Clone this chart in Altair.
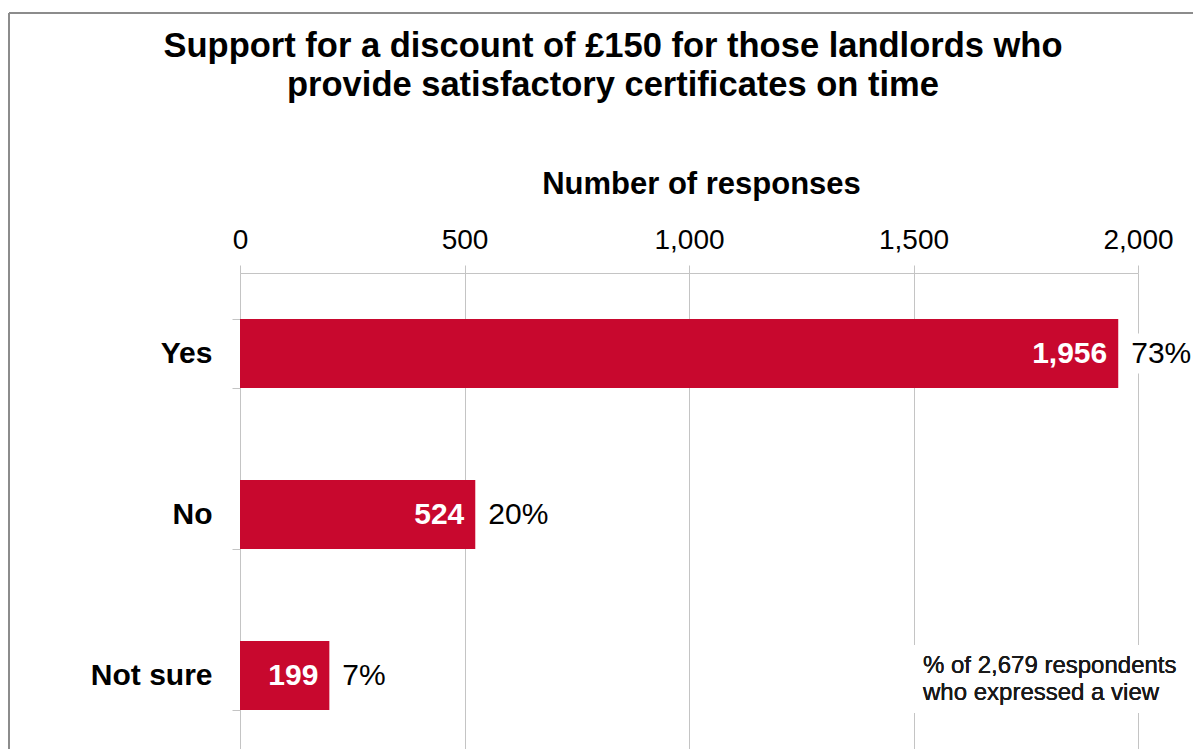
import altair as alt
import pandas as pd

categories = ["Yes", "No", "Not sure"]
counts = [1956, 524, 199]
percents = ["73%", "20%", "7%"]
title_lines = ["Support for a discount of £150 for those landlords who",
               "provide satisfactory certificates on time"]
x_ticks = [0, 500, 1000, 1500, 2000]
note_text = "% of 2,679 respondents\nwho expressed a view"

df = pd.DataFrame({"category": categories, "count": counts, "pct": percents})

FONT = "Liberation Sans"
RED = "#C8082E"
GRID = "#C4C4C4"
FRAME = "#8C8C8C"

y_enc = alt.Y("category:N", sort=categories,
              scale=alt.Scale(paddingInner=0.57, paddingOuter=0.285),
              axis=alt.Axis(title=None, labelFont=FONT, labelFontSize=30, labelFontWeight="bold",
                            labelColor="#000000", labelPadding=20, tickSize=8, tickColor=GRID,
                            tickBand="extent", domainColor=GRID, grid=False))
x_enc = alt.X("count:Q", scale=alt.Scale(domain=[0, 2000], nice=False),
              axis=alt.Axis(orient="top", values=x_ticks, format=",d", title="Number of responses",
                            titleFont=FONT, titleFontSize=31, titleFontWeight="bold", titleColor="#000000",
                            titlePadding=26, titleX=461,
                            labelFont=FONT, labelFontSize=28, labelColor="#000000", labelPadding=11,
                            labelFlush=False, tickSize=8, tickColor=GRID, domainColor=GRID,
                            grid=True, gridColor=GRID))

base = alt.Chart(df)

white_box = base.transform_calculate(hi="datum.count + 220").mark_bar(
    color="white", size=40).encode(x=x_enc, x2="hi:Q", y=y_enc)

bars = base.mark_bar(color=RED, size=69).encode(x=x_enc, y=y_enc)

inner = base.mark_text(align="right", baseline="middle", dx=-11, font=FONT, fontSize=30,
                       fontWeight="bold", color="white").encode(
    x=x_enc, y=y_enc, text=alt.Text("count:Q", format=",d"))

outer = base.mark_text(align="left", baseline="middle", dx=13, font=FONT, fontSize=30,
                       color="#000000").encode(x=x_enc, y=y_enc, text="pct:N")

note_box = alt.Chart(df).mark_rect(color="white").encode(
    x=alt.value(665), x2=alt.value(950), y=alt.value(372), y2=alt.value(440))

note = alt.Chart(df).mark_text(align="left", baseline="alphabetic", font=FONT, fontSize=24,
                               lineHeight=27, lineBreak="\n", color="#1a1a1a").encode(
    x=alt.value(683), y=alt.value(400), text=alt.value(note_text))

frame_left = alt.Chart(df).mark_rule(color=FRAME, strokeWidth=2).encode(
    x=alt.value(-231), y=alt.value(-260), y2=alt.value(600))
frame_top = alt.Chart(df).mark_rule(color=FRAME, strokeWidth=2).encode(
    x=alt.value(-231), x2=alt.value(1000), y=alt.value(-260))

chart = alt.layer(white_box, bars, inner, outer, note_box, note, frame_left, frame_top).properties(
    width=898, height=483,
    title=alt.TitleParams(title_lines, font=FONT, fontSize=34.5, fontWeight="bold", color="#000000",
                          lineHeight=39, anchor="middle", frame="group", dx=-76, offset=-91),
    autosize=alt.AutoSizeParams(type="none"),
    padding={"left": 232, "top": 265, "right": 55, "bottom": 0},
).configure_view(stroke=None)

chart.save("out.html", embed_options={"renderer": "svg", "actions": False})
